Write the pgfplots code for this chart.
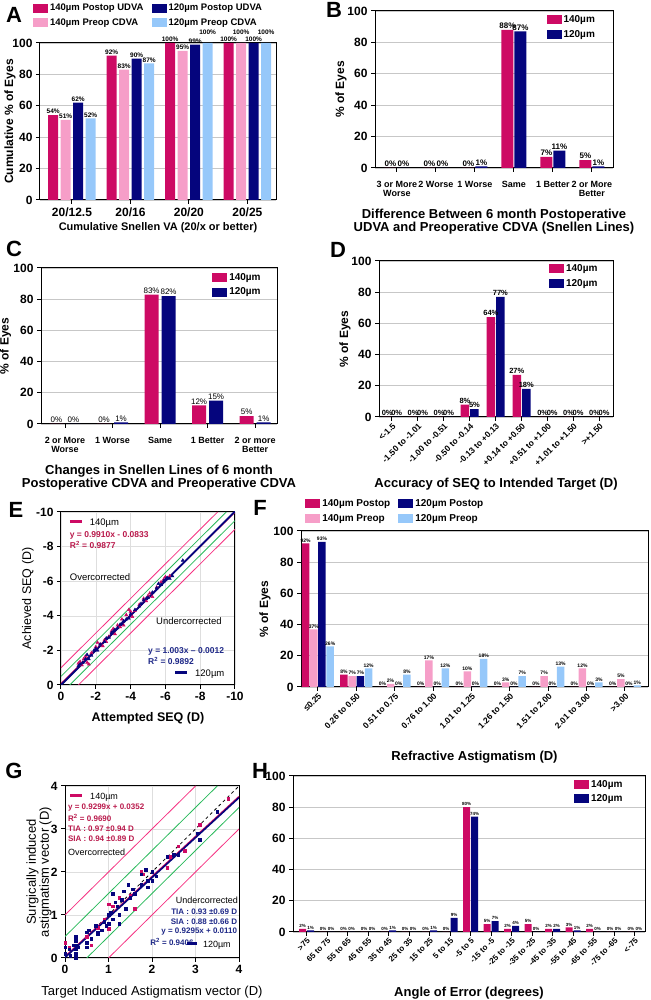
\documentclass[border=0pt]{standalone}
\usepackage{pgfplots}
\usepackage{pgfplotstable}
\pgfplotsset{compat=1.18}
\usepackage{fontspec}
\setmainfont{Liberation Sans}
\newcommand{\fs}[1]{\fontsize{#1}{#1}\selectfont}
\definecolor{crim}{RGB}{205,10,100}
\definecolor{lpink}{RGB}{246,158,200}
\definecolor{navy}{RGB}{5,5,125}
\definecolor{lblue}{RGB}{150,200,250}
\definecolor{lgreen}{RGB}{40,185,90}
\definecolor{hpink}{RGB}{245,50,130}
\definecolor{crimtxt}{RGB}{185,25,75}
\definecolor{navytxt}{RGB}{30,40,135}

\pgfplotstableread{
x a b c d da db dc dd
0 54 51 62 52 0 0 0 0
1 92 83 90 87 0 0 0 0
2 100 95 99 100 0 0 0 7
3 100 100 100 100 0 7 0 7
}\tabA
\pgfplotstableread{
x a b
0 0 0
1 0 0
2 0 1
3 88 87
4 7 11
5 5 1
}\tabB
\pgfplotstableread{
x a b
0 0 0
1 0 1
2 83 82
3 12 15
4 5 1
}\tabC
\pgfplotstableread{
x a b
0 0 0
1 0 0
2 0 0
3 8 5
4 64 77
5 27 18
6 0 0
7 0 0
8 0 0
}\tabD
\pgfplotstableread{
x a b c d
0 92 37 93 26
1 8 7 7 12
2 0 2 0 8
3 0 17 0 12
4 0 10 0 18
5 0 3 0 7
6 0 7 0 13
7 0 12 0 3
8 0 5 0 1
}\tabF
\pgfplotstableread{
x a b
0 2 1
1 0 0
2 0 0
3 0 0
4 0 1
5 0 0
6 0 1
7 0 9
8 80 74
9 5 7
10 2 4
11 5 0
12 2 2
13 3 1
14 2 0
15 0 0
16 0 0
}\tabH
\pgfplotstableread{
ax ac
-1.0 -1.25
-1.1 -1.35
-1.2 -1.15
-1.3 -1.5
-1.4 -1.65
-1.5 -1.3
-1.6 -1.2
-1.75 -1.85
-2.0 -2.2
-2.1 -2.45
-2.25 -2.35
-2.4 -2.25
-2.5 -2.6
-2.6 -2.5
-2.75 -2.8
-2.9 -3.1
-3.0 -3.25
-3.1 -2.95
-3.25 -3.45
-3.4 -3.35
-3.5 -3.8
-3.6 -3.45
-3.75 -4.05
-3.9 -4.35
-4.0 -4.25
-4.1 -3.95
-4.25 -4.3
-4.5 -4.65
-4.75 -5.0
-4.9 -4.85
-5.0 -5.15
-5.1 -5.3
-5.25 -5.1
-5.5 -5.65
-5.75 -5.95
-5.9 -6.1
-6.0 -6.25
-6.25 -6.3
}\tabEa
\pgfplotstableread{
ax ac
-1.0 -1.1
-1.1 -1.2
-1.25 -1.3
-1.4 -1.5
-1.5 -1.75
-1.6 -1.5
-1.75 -1.7
-1.9 -2.0
-2.0 -2.1
-2.1 -2.0
-2.25 -2.35
-2.5 -2.5
-2.6 -2.7
-2.75 -2.75
-2.9 -3.0
-3.0 -3.1
-3.1 -3.2
-3.25 -3.3
-3.4 -3.5
-3.5 -3.55
-3.6 -3.7
-3.75 -3.8
-3.9 -3.85
-4.0 -4.1
-4.25 -4.35
-4.5 -4.55
-4.6 -4.7
-4.75 -4.9
-4.9 -5.0
-5.0 -5.05
-5.25 -5.35
-5.5 -5.6
-5.6 -5.85
-5.75 -5.8
-5.9 -6.0
-6.0 -6.1
-6.1 -6.2
-6.25 -6.15
-6.4 -6.3
-7.0 -7.2
}\tabEb
\pgfplotstableread{
t s
0 0.35
0.1 0.25
0.25 0.2
0.5 0.5
0.6 0.3
0.75 0.7
0.9 0.9
1.0 1.25
1.0 0.68
1.1 1.2
1.25 1.4
1.5 1.45
1.6 1.15
1.75 2.0
1.8 1.95
2.0 2.0
2.35 2.1
2.4 2.35
2.6 2.6
2.75 2.5
3.1 3.1
3.75 3.7
}\tabGa
\pgfplotstableread{
t s
0 0.25
0 0.1
0.1 0.2
0.12 0.05
0.2 0.3
0.25 0.5
0.25 0.4
0.25 0.3
0.25 0.2
0.25 0.1
0.25 0.0
0.3 0.25
0.5 0.25
0.5 0.35
0.5 0.6
0.55 0.65
0.6 0.45
0.7 0.75
0.75 0.55
0.75 0.6
0.85 0.65
0.9 0.85
0.95 0.75
1.0 1.0
1.0 0.8
1.05 1.05
1.1 1.5
1.1 0.9
1.15 1.3
1.2 1.2
1.25 1.0
1.25 0.8
1.3 1.35
1.35 1.55
1.4 1.15
1.45 1.7
1.5 1.4
1.55 1.6
1.6 1.5
1.75 1.95
1.75 1.7
1.85 2.05
1.9 1.8
1.9 1.65
2.0 1.8
2.0 2.0
2.1 1.9
2.35 2.35
2.5 2.4
2.6 2.4
3.1 2.75
3.05 2.9
3.5 3.4
}\tabGb

\pgfplotsset{
  sqlegend/.style={legend image code/.code={\fill[##1] (0pt,-4.5pt) rectangle (15pt,4.5pt);}},
  base/.style={
    scale only axis, anchor=south west,
    axis line style={line width=1pt},
    tick style={black, line width=1pt},
    tick align=outside, major tick length=4pt,
    tick pos=left,
    /pgf/number format/assume math mode=true,
    tick label style={font=\fs{12}\bfseries},
    label style={font=\fs{12}\bfseries},
    xlabel style={align=center, anchor=center},
    ylabel style={align=center, anchor=center},
  },
  bars/.style={
    base, ybar, clip=false,
    ymin=0, ymax=100, ytick={0,20,40,60,80,100},
    ymajorgrids, grid style={line width=0.6pt, black!22},
    nodes near coords={\pgfmathprintnumber{\pgfplotspointmeta}\%},
    every node near coord/.append style={text=black, inner sep=1pt},
    legend style={draw=none, fill=none, font=\fs{10}\bfseries, cells={anchor=west}, inner sep=0pt, row sep=2pt},
    legend cell align=left,
  },
}

\begin{document}
\begin{tikzpicture}[x=1pt,y=1pt]
\useasboundingbox (0,0) rectangle (650,1000);

% ---------------- A
\begin{axis}[bars, at={(40pt,800pt)}, width=236pt, height=157pt,
  xmin=-0.547, xmax=3.49, xtick={0,1,2,3}, xticklabels={20/12.5,20/16,20/20,20/25},
  bar width=10pt, ybar=2.5pt,
  ylabel={Cumulative \% of Eyes}, xlabel={Cumulative Snellen VA (20/x or better)},
  xlabel style={font=\fs{11}\bfseries, at={(axis description cs:0.5,-0.178)}},
  ylabel style={at={(axis description cs:-0.127,0.5)}},
  every node near coord/.append style={font=\fs{6.5}\bfseries},
  legend columns=2, transpose legend,
  legend style={at={(-0.03,1.26)}, anchor=north west, font=\fs{9.5}\bfseries, /tikz/every even column/.append style={column sep=6pt}},
]
\addplot[fill=crim, draw=none, sqlegend, visualization depends on={\thisrow{da}\as\dy}, every node near coord/.append style={yshift=\dy pt}] table[x=x,y=a]{\tabA};
\addplot[fill=lpink, draw=none, sqlegend, visualization depends on={\thisrow{db}\as\dy}, every node near coord/.append style={yshift=\dy pt}] table[x=x,y=b]{\tabA};
\addplot[fill=navy, draw=none, sqlegend, visualization depends on={\thisrow{dc}\as\dy}, every node near coord/.append style={yshift=\dy pt}] table[x=x,y=c]{\tabA};
\addplot[fill=lblue, draw=none, sqlegend, visualization depends on={\thisrow{dd}\as\dy}, every node near coord/.append style={yshift=\dy pt}] table[x=x,y=d]{\tabA};
\legend{140µm Postop UDVA,140µm Preop CDVA,120µm Postop UDVA,120µm Preop CDVA}
\end{axis}

% ---------------- B
\begin{axis}[bars, at={(375pt,832pt)}, width=238pt, height=157pt,
  xmin=-0.56, xmax=5.54, xtick={0,...,5},
  xticklabels={{3 or More\\Worse},{2 Worse},{1 Worse},{Same},{1 Better},{2 or More\\Better}},
  xticklabel style={align=center, font=\fs{9}\bfseries, yshift=-6pt},
  bar width=12pt, ybar=1pt,
  ylabel={\% of Eyes}, xlabel={Difference Between 6 month Postoperative\\UDVA and Preoperative CDVA (Snellen Lines)},
  xlabel style={font=\fs{13}\bfseries, at={(axis description cs:0.5,-0.341)}},
  ylabel style={at={(axis description cs:-0.143,0.5)}},
  every node near coord/.append style={font=\fs{8}\bfseries},
  legend style={at={(0.72,0.985)}, anchor=north west},
]
\addplot[fill=crim, draw=none, sqlegend] table[x=x,y=a]{\tabB};
\addplot[fill=navy, draw=none, sqlegend] table[x=x,y=b]{\tabB};
\legend{140µm,120µm}
\end{axis}

% ---------------- C
\begin{axis}[bars, at={(41pt,576pt)}, width=236pt, height=156pt,
  xmin=-0.505, xmax=4.46, xtick={0,...,4},
  xticklabels={{2 or More\\Worse},{1 Worse},{Same},{1 Better},{2 or more\\Better}},
  xticklabel style={align=center, font=\fs{9}\bfseries, yshift=-6pt},
  bar width=14pt, ybar=3pt,
  ylabel={\% of Eyes}, xlabel={Changes in Snellen Lines of 6 month\\Postoperative CDVA and Preoperative CDVA},
  xlabel style={font=\fs{13}\bfseries, at={(axis description cs:0.5,-0.343)}},
  ylabel style={at={(axis description cs:-0.15,0.5)}},
  every node near coord/.append style={font=\fs{8}},
  legend style={at={(0.725,0.98)}, anchor=north west},
]
\addplot[fill=crim, draw=none, sqlegend] table[x=x,y=a]{\tabC};
\addplot[fill=navy, draw=none, sqlegend] table[x=x,y=b]{\tabC};
\legend{140µm,120µm}
\end{axis}

% ---------------- D
\begin{axis}[bars, at={(379pt,583pt)}, width=234pt, height=156pt,
  xmin=-0.5, xmax=8.53, xtick={0,...,8},
  xticklabels={<-1.5,-1.50 to -1.01,-1.00 to -0.51,-0.50 to -0.14,-0.13 to +0.13,+0.14 to +0.50,+0.51 to +1.00,+1.01 to +1.50,>+1.50},
  xticklabel style={rotate=45, anchor=north east, inner sep=1pt, font=\fs{8.5}\bfseries},
  bar width=8.5pt, ybar=1pt,
  ylabel={\% of Eyes}, xlabel={Accuracy of SEQ to Intended Target (D)},
  xlabel style={font=\fs{13}\bfseries, at={(axis description cs:0.5,-0.43)}},
  ylabel style={at={(axis description cs:-0.145,0.5)}},
  every node near coord/.append style={font=\fs{7.5}\bfseries},
  legend style={at={(0.726,0.99)}, anchor=north west},
]
\addplot[fill=crim, draw=none, sqlegend] table[x=x,y=a]{\tabD};
\addplot[fill=navy, draw=none, sqlegend] table[x=x,y=b]{\tabD};
\legend{140µm,120µm}
\end{axis}

% ---------------- E
\begin{axis}[base, at={(61pt,315pt)}, width=174pt, height=173pt,
  xmin=-10, xmax=0, ymin=-10, ymax=0, x dir=reverse, y dir=reverse,
  xtick={0,-2,-4,-6,-8,-10}, ytick={0,-2,-4,-6,-8,-10},
  grid=major, grid style={black!13, line width=0.4pt},
  xlabel={Attempted SEQ (D)}, ylabel={Achieved SEQ (D)},
  xlabel style={font=\fs{12.5}\bfseries, at={(axis description cs:0.5,-0.19)}},
  ylabel style={font=\fs{12.5}, at={(axis description cs:-0.19,0.5)}},
]
\addplot[hpink, line width=0.8pt, mark=none] coordinates {(0,-1) (-9,-10)};
\addplot[hpink, line width=0.8pt, mark=none] coordinates {(-1,0) (-10,-9)};
\addplot[lgreen, line width=0.8pt, mark=none] coordinates {(0,-0.5) (-9.5,-10)};
\addplot[lgreen, line width=0.8pt, mark=none] coordinates {(-0.5,0) (-10,-9.5)};
\addplot[black, line width=0.8pt, mark=none] coordinates {(0,0) (-10,-10)};
\addplot[only marks, mark=triangle*, mark size=1.8pt, crim] table[x=ax,y=ac]{\tabEa};
\addplot[only marks, mark=triangle*, mark size=1.8pt, navy] table[x=ax,y=ac]{\tabEb};
\addplot[crim, line width=1.2pt, mark=none] coordinates {(0,-0.083) (-10,-9.99)};
\addplot[navy, line width=1.8pt, mark=none] coordinates {(0,-0.001) (-10,-10.03)};
\node[anchor=west, font=\fs{9.5}, inner sep=0pt] at (axis description cs:0.05,0.936) {\textcolor{crim}{\rule[2.5pt]{12pt}{2.5pt}}\hspace{8pt}140µm};
\node[anchor=west, font=\fs{8.5}\bfseries, text=crimtxt, inner sep=0pt] at (axis description cs:0.05,0.867) {y = 0.9910x - 0.0833};
\node[anchor=west, font=\fs{8.5}\bfseries, text=crimtxt, inner sep=0pt] at (axis description cs:0.05,0.809) {R\textsuperscript{2} = 0.9877};
\node[anchor=west, font=\fs{9.5}, inner sep=0pt] at (axis description cs:0.05,0.624) {Overcorrected};
\node[anchor=west, font=\fs{9.5}, inner sep=0pt] at (axis description cs:0.546,0.37) {Undercorrected};
\node[anchor=west, font=\fs{8.5}\bfseries, text=navytxt, inner sep=0pt] at (axis description cs:0.5,0.197) {y = 1.003x – 0.0012};
\node[anchor=west, font=\fs{8.5}\bfseries, text=navytxt, inner sep=0pt] at (axis description cs:0.5,0.139) {R\textsuperscript{2} = 0.9892};
\node[anchor=west, font=\fs{9.5}, inner sep=0pt] at (axis description cs:0.655,0.064) {\textcolor{navy}{\rule[2.5pt]{12pt}{2.5pt}}\hspace{8pt}120µm};
\end{axis}

% ---------------- F
\begin{axis}[bars, at={(301pt,313pt)}, width=347pt, height=156pt,
  xmin=-0.44, xmax=8.6, xtick={0,...,8},
  xticklabels={≤0.25,0.26 to 0.50,0.51 to 0.75,0.76 to 1.00,1.01 to 1.25,1.26 to 1.50,1.51 to 2.00,2.01 to 3.00,>3.00},
  xticklabel style={rotate=45, anchor=north east, inner sep=1pt, font=\fs{8.5}\bfseries},
  bar width=7.5pt, ybar=0.7pt,
  ylabel={\% of Eyes}, xlabel={Refractive Astigmatism (D)},
  xlabel style={font=\fs{13}\bfseries, at={(axis description cs:0.5,-0.449)}},
  ylabel style={at={(axis description cs:-0.104,0.5)}},
  every node near coord/.append style={font=\fs{5}\bfseries},
  legend columns=2, transpose legend,
  legend style={at={(0.012,1.215)}, anchor=north west, /tikz/every even column/.append style={column sep=6pt}},
]
\addplot[fill=crim, draw=none, sqlegend] table[x=x,y=a]{\tabF};
\addplot[fill=lpink, draw=none, sqlegend] table[x=x,y=b]{\tabF};
\addplot[fill=navy, draw=none, sqlegend] table[x=x,y=c]{\tabF};
\addplot[fill=lblue, draw=none, sqlegend] table[x=x,y=d]{\tabF};
\legend{140µm Postop,140µm Preop,120µm Postop,120µm Preop}
\end{axis}

% ---------------- G
\begin{axis}[base, at={(65pt,42pt)}, width=174pt, height=172pt,
  xmin=0, xmax=4, ymin=0, ymax=4,
  xtick={0,1,2,3,4}, ytick={0,1,2,3,4},
  grid=major, grid style={black!13, line width=0.4pt},
  xlabel={Target Induced Astigmatism vector (D)}, ylabel={Surgically induced\\astigmatism vector (D)},
  xlabel style={font=\fs{13}, at={(axis description cs:0.5,-0.198)}},
  ylabel style={font=\fs{13}, at={(axis description cs:-0.15,0.5)}},
]
\addplot[hpink, line width=0.8pt, mark=none] coordinates {(0,1) (3,4)};
\addplot[hpink, line width=0.8pt, mark=none] coordinates {(1,0) (4,3)};
\addplot[lgreen, line width=0.8pt, mark=none] coordinates {(0,0.5) (3.5,4)};
\addplot[lgreen, line width=0.8pt, mark=none] coordinates {(0.5,0) (4,3.5)};
\addplot[only marks, mark=square*, mark size=1.3pt, crim] table[x=t,y=s]{\tabGa};
\addplot[only marks, mark=square*, mark size=1.3pt, navy] table[x=t,y=s]{\tabGb};
\addplot[black, line width=0.8pt, dashed, mark=none] coordinates {(0,0) (4,4)};
\addplot[crim, line width=1.4pt, mark=none] coordinates {(0,0.035) (4,3.755)};
\addplot[navy, line width=1.6pt, mark=none] coordinates {(0,0.011) (4,3.729)};
\node[anchor=west, font=\fs{9}, inner sep=0pt] at (axis description cs:0.029,0.936) {\textcolor{crim}{\rule[2.5pt]{12pt}{2.5pt}}\hspace{8pt}140µm};
\node[anchor=west, font=\fs{8}\bfseries, text=crimtxt, inner sep=0pt] at (axis description cs:0.017,0.872) {y = 0.9299x + 0.0352};
\node[anchor=west, font=\fs{8}\bfseries, text=crimtxt, inner sep=0pt] at (axis description cs:0.017,0.814) {R\textsuperscript{2} = 0.9690};
\node[anchor=west, font=\fs{8}\bfseries, text=crimtxt, inner sep=0pt] at (axis description cs:0.017,0.75) {TIA : 0.97 ±0.94 D};
\node[anchor=west, font=\fs{8}\bfseries, text=crimtxt, inner sep=0pt] at (axis description cs:0.017,0.692) {SIA : 0.94 ±0.89 D};
\node[anchor=west, font=\fs{9}, inner sep=0pt] at (axis description cs:0.017,0.616) {Overcorrected};
\node[anchor=east, font=\fs{9}, inner sep=0pt] at (axis description cs:0.995,0.337) {Undercorrected};
\node[anchor=east, font=\fs{8}\bfseries, text=navytxt, inner sep=0pt] at (axis description cs:0.99,0.267) {TIA : 0.93 ±0.69 D};
\node[anchor=east, font=\fs{8}\bfseries, text=navytxt, inner sep=0pt] at (axis description cs:0.99,0.209) {SIA : 0.88 ±0.66 D};
\node[anchor=east, font=\fs{8}\bfseries, text=navytxt, inner sep=0pt] at (axis description cs:0.99,0.151) {y = 0.9295x + 0.0110};
\node[anchor=west, font=\fs{8}\bfseries, text=navytxt, inner sep=0pt] at (axis description cs:0.489,0.093) {R\textsuperscript{2} = 0.9406};
\node[anchor=west, font=\fs{9}, inner sep=0pt] at (axis description cs:0.7,0.075) {\textcolor{navy}{\rule[2.5pt]{10pt}{2.5pt}}\hspace{6pt}120µm};
\end{axis}

% ---------------- H
\begin{axis}[bars, at={(293pt,68pt)}, width=352pt, height=156pt,
  xmin=-0.66, xmax=16.5, xtick={0,...,16},
  xticklabels={>75,65 to 75,55 to 65,45 to 55,35 to 45,25 to 35,15 to 25,5 to 15,-5 to 5,-15 to -5,-25 to -15,-35 to -25,-45 to -35,-55 to -45,-65 to -55,-75 to -65,<-75},
  xticklabel style={rotate=45, anchor=north east, inner sep=1pt, font=\fs{8}\bfseries},
  bar width=7pt, ybar=1pt,
  xlabel={Angle of Error (degrees)},
  xlabel style={font=\fs{13}\bfseries, at={(axis description cs:0.5,-0.391)}},
  every node near coord/.append style={font=\fs{4.5}\bfseries},
  legend style={at={(0.798,0.987)}, anchor=north west},
]
\addplot[fill=crim, draw=none, sqlegend] table[x=x,y=a]{\tabH};
\addplot[fill=navy, draw=none, sqlegend] table[x=x,y=b]{\tabH};
\legend{140µm,120µm}
\end{axis}

% panel letters
\node[font=\fs{22}\bfseries] at (14,985) {A};
\node[font=\fs{22}\bfseries] at (334,990) {B};
\node[font=\fs{22}\bfseries] at (14,751) {C};
\node[font=\fs{22}\bfseries] at (338,750) {D};
\node[font=\fs{22}\bfseries] at (16,490) {E};
\node[font=\fs{22}\bfseries] at (260,492) {F};
\node[font=\fs{22}\bfseries] at (14,229) {G};
\node[font=\fs{22}\bfseries] at (260,229) {H};
\end{tikzpicture}
\end{document}
